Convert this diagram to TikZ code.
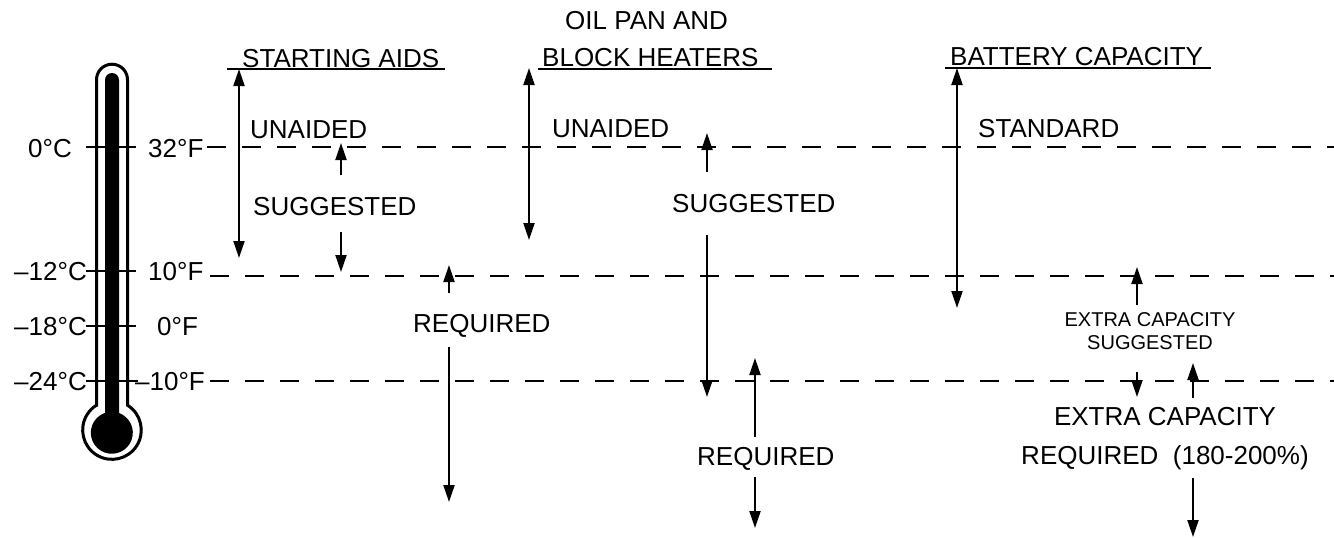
\documentclass[tikz,border=0pt]{standalone}
\usepackage{fontspec}
\setmainfont{Liberation Sans}
\usetikzlibrary{arrows.meta}

\begin{document}
\begin{tikzpicture}[
  x=1pt, y=-1pt,
  every node/.style={inner sep=0pt, font=\fontsize{26}{30}\selectfont},
  lbl/.style={anchor=base west},
  lblr/.style={anchor=base east},
  note/.style={anchor=north, align=center},
  arr/.style={line width=2pt, -{Triangle[length=17pt, width=11pt]}},
  dblarr/.style={line width=2pt, {Triangle[length=17pt, width=11pt]}-{Triangle[length=17pt, width=11pt]}},
  level/.style={line width=2pt, dash pattern=on 19pt off 16pt},
  rule/.style={line width=2pt}
]
  \useasboundingbox (0,0) rectangle (1334,538);

  % thermometer
  \draw[line width=3pt] (96.5,405.2) -- (96.5,79.7) arc[start angle=180, end angle=360, radius=15.5]
    -- (127.5,405.2) arc[start angle=-58, end angle=238, radius=29.3] -- cycle;
  \draw[rule] (86,147) -- (136,147) (86,271) -- (136,271)
              (86,326) -- (136,326) (86,381) -- (138,381);
  \fill (105,413) -- (105,80) arc[start angle=180, end angle=360, radius=7]
    -- (119,413) arc[start angle=-70, end angle=250, radius=21] -- cycle;

  % scale labels
  \node[lblr] (c0)  at (72,157) {0°C};
  \node[lblr] (c12) at (87,280) {--12°C};
  \node[lblr] (c18) at (87,335) {--18°C};
  \node[lblr] (c24) at (87,390) {--24°C};
  \node[lbl] (f32) at (148,157) {32°F};
  \node[lbl] (f10) at (148,280) {10°F};
  \node[lbl] (f0)  at (157,335) {0°F};
  \node[lbl] (fm10) at (135,390) {--10°F};

  % temperature levels
  \coordinate (l32w) at (207,147);  \coordinate (l32e) at (1334,147);
  \coordinate (l10w) at (210,276);  \coordinate (l10e) at (1334,276);
  \coordinate (lm10w) at (210,381); \coordinate (lm10e) at (1334,381);
  \draw[level] (l32w) -- (l32e);
  \draw[level] (l10w) -- (l10e);
  \draw[level] (lm10w) -- (lm10e);

  % headers
  \node[lbl] (sa) at (242,67) {STARTING AIDS};
  \node[lbl] (op) at (565,29) {OIL PAN AND};
  \node[lbl] (bh) at (542,66) {BLOCK HEATERS};
  \node[lbl] (bc) at (950,65) {BATTERY CAPACITY};
  \draw[rule] ([xshift=-15pt,yshift=-2pt]sa.base west) -- ([xshift=6pt,yshift=-2pt]sa.base east);
  \draw[rule] ([xshift=-4pt,yshift=-3pt]bh.base west) -- ([xshift=13pt,yshift=-3pt]bh.base east);
  \draw[rule] ([xshift=-5pt,yshift=-3pt]bc.base west) -- ([xshift=8pt,yshift=-3pt]bc.base east);

  % starting aids
  \node[lbl] (un1) at (250,138) {UNAIDED};
  \node[lbl] (sg1) at (253,215) {SUGGESTED};
  \node[lbl] (rq1) at (413,332) {REQUIRED};
  \coordinate (sa1) at (239,69);  \coordinate (sa2) at (239,258);
  \coordinate (sa3) at (341,175); \coordinate (sa4) at (341,143);
  \coordinate (sa5) at (341,232); \coordinate (sa6) at (341,272);
  \coordinate (sa7) at (449,293); \coordinate (sa8) at (449,265);
  \coordinate (sa9) at (449,347); \coordinate (sa10) at (449,502);
  \draw[dblarr] (sa1) -- (sa2);
  \draw[arr] (sa3) -- (sa4);
  \draw[arr] (sa5) -- (sa6);
  \draw[arr] (sa7) -- (sa8);
  \draw[arr] (sa9) -- (sa10);

  % oil pan and block heaters
  \node[lbl] (un2) at (552,137) {UNAIDED};
  \node[lbl] (sg2) at (672,212) {SUGGESTED};
  \node[lbl] (rq2) at (697,465) {REQUIRED};
  \coordinate (bh1) at (529,68);  \coordinate (bh2) at (529,240);
  \coordinate (bh3) at (707,172); \coordinate (bh4) at (707,133);
  \coordinate (bh5) at (707,235); \coordinate (bh6) at (707,397);
  \coordinate (bh7) at (755,437); \coordinate (bh8) at (755,358);
  \coordinate (bh9) at (755,477); \coordinate (bh10) at (755,528);
  \draw[dblarr] (bh1) -- (bh2);
  \draw[arr] (bh3) -- (bh4);
  \draw[arr] (bh5) -- (bh6);
  \draw[arr] (bh7) -- (bh8);
  \draw[arr] (bh9) -- (bh10);

  % battery capacity
  \node[lbl] (std) at (978,137) {STANDARD};
  \node[note, font=\fontsize{20}{23}\selectfont] (ecs) at (1150,312) {EXTRA CAPACITY\\SUGGESTED};
  \node[note, font=\fontsize{26}{39}\selectfont] (ecr) at (1165,407) {EXTRA CAPACITY\\REQUIRED\ \ (180-200\%)};
  \coordinate (bc1) at (957,68);   \coordinate (bc2) at (957,308);
  \coordinate (bc3) at (1137,305); \coordinate (bc4) at (1137,267);
  \coordinate (bc5) at (1137,372); \coordinate (bc6) at (1137,397);
  \coordinate (bc7) at (1193,398); \coordinate (bc8) at (1193,363);
  \coordinate (bc9) at (1193,478); \coordinate (bc10) at (1193,537);
  \draw[dblarr] (bc1) -- (bc2);
  \draw[arr] (bc3) -- (bc4);
  \draw[arr] (bc5) -- (bc6);
  \draw[arr] (bc7) -- (bc8);
  \draw[arr] (bc9) -- (bc10);
\end{tikzpicture}
\end{document}
